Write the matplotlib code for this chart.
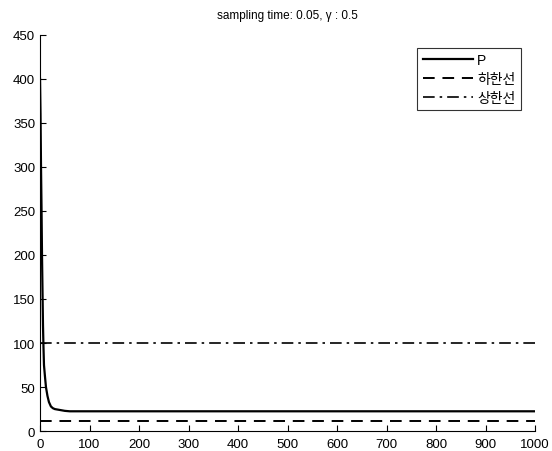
import matplotlib.pyplot as plt

plt.rcParams["font.family"] = ["Liberation Sans", "Noto Sans CJK KR", "DejaVu Sans"]

# P response
t = [0, 1, 2, 3, 4, 5, 6, 7, 8, 10, 12, 15, 18, 22, 26, 30, 40, 50, 60,
     100, 150, 200, 250, 300, 350, 400, 450, 500, 550, 600, 650, 700,
     750, 800, 850, 900, 950, 1000]
p = [400, 360, 300, 255, 200, 160, 120, 95, 75, 62, 50, 40, 33, 28, 26, 25,
     24, 23, 22.5, 22.5, 22.5, 22.5, 22.5, 22.5, 22.5, 22.5, 22.5, 22.5, 22.5,
     22.5, 22.5, 22.5, 22.5, 22.5, 22.5, 22.5, 22.5, 22.5]

t_limits = [0, 1000]
lower = [12, 12]
upper = [100, 100]

labels = ["P", "하한선", "상한선"]
title = "sampling time: 0.05, γ : 0.5"

fig = plt.figure(figsize=(5.52, 4.52), dpi=100)
ax = fig.add_axes([0.0725, 0.044, 0.897, 0.877])

ax.plot(t, p, color="black", linewidth=1.6, label=labels[0])
ax.plot(t_limits, lower, color="black", linewidth=1.4, linestyle=(0, (6, 4)), label=labels[1])
ax.plot(t_limits, upper, color="black", linewidth=1.2, linestyle=(0, (7, 3, 1.5, 3)), label=labels[2])

ax.set_xlim(0, 1000)
ax.set_ylim(0, 450)
ax.set_xticks(range(0, 1001, 100))
ax.set_yticks(range(0, 451, 50))
ax.tick_params(direction="in", length=4, labelsize=9.5, width=0.8)
ax.tick_params(axis="x", pad=5)
ax.spines["top"].set_visible(False)
ax.spines["right"].set_visible(False)

ax.set_title(title, fontsize=8.5, pad=12)

leg = ax.legend(loc="upper right", fontsize=10, frameon=True, fancybox=False,
                edgecolor="black", handlelength=3.6, handletextpad=0.3,
                borderpad=0.4, labelspacing=0.35, bbox_to_anchor=(0.985, 0.985))
leg.get_frame().set_linewidth(0.8)

fig.savefig("out.png", dpi=100)
